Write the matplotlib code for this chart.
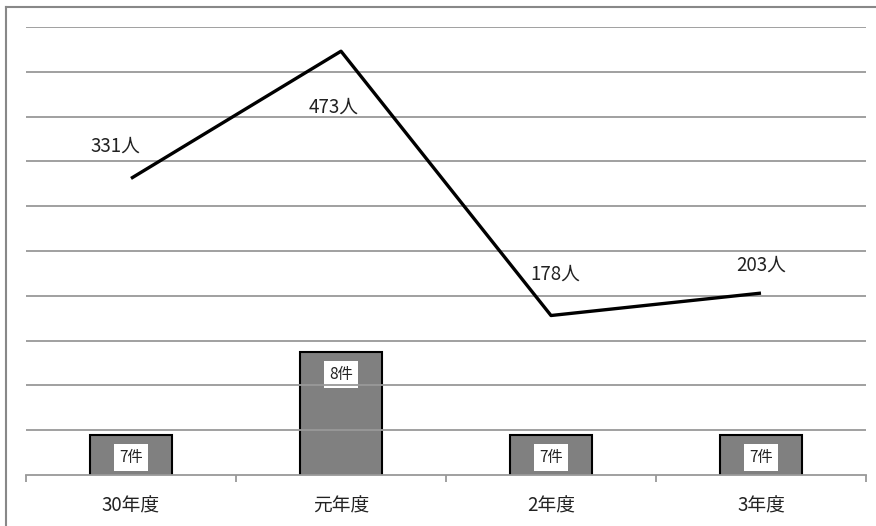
import matplotlib.pyplot as plt
from matplotlib.lines import Line2D

plt.rcParams['font.family'] = ['Noto Sans CJK JP', 'DejaVu Sans']

categories = ['30年度', '元年度', '2年度', '3年度']
cases = [7, 8, 7, 7]          # 件
people = [331, 473, 178, 203]  # 人

W, H = 876, 526
fig = plt.figure(figsize=(W / 100, H / 100), dpi=100)
ax = fig.add_axes([26 / W, (H - 475) / H, 840 / W, 448 / H])
ax2 = ax.twinx()

x = list(range(len(categories)))

# bars on the secondary scale, drawn below the line
ax2.bar(x, cases, width=0.395, color='#808080', edgecolor='black', linewidth=1.5, zorder=2)
ax2.set_ylim(6.52, 11.92)
ax2.set_yticks([])
for s in ax2.spines.values():
    s.set_visible(False)
for xi, v in zip(x, cases):
    ax2.annotate(f'{v}件', (xi, v), xytext=(0, -16), textcoords='offset points',
                 ha='center', va='center', fontsize=11, color='#222222',
                 bbox=dict(boxstyle='square,pad=0.35', fc='white', ec='none'))

ax.set_zorder(ax2.get_zorder() + 1)
ax.patch.set_visible(False)

ax.plot(x, people, color='black', lw=2.4, solid_capstyle='butt', zorder=3)
offsets = [(-11, 23), (-5, -40), (3, 30), (0, 20)]
for xi, v, off in zip(x, people, offsets):
    ax.annotate(f'{v}人', (xi, v), xytext=off, textcoords='offset points',
                ha='center', va='center', fontsize=13.5, color='#222222')

ax.set_ylim(0, 500)
ax.set_xlim(-0.5, len(categories) - 0.5)
ax.set_yticks(range(50, 501, 50))
ax.yaxis.grid(True, color='#999999', lw=1.3)
ax.tick_params(axis='y', length=0, labelleft=False)
ax.set_xticks(x)
ax.set_xticklabels(categories, fontsize=13.5, color='#222222')
ax.tick_params(axis='x', which='major', length=0, pad=15)
ax.set_xticks([i - 0.5 for i in range(len(categories) + 1)], minor=True)
ax.tick_params(axis='x', which='minor', length=5, color='#999999', width=1.3)
for k in ['top', 'right', 'left']:
    ax.spines[k].set_visible(False)
ax.spines['bottom'].set_color('#999999')
ax.spines['bottom'].set_linewidth(1.3)

# outer frame (top and left edges visible)
fig.add_artist(Line2D([6 / W, 1], [1 - 7 / H, 1 - 7 / H], color='#888888', lw=1.5))
fig.add_artist(Line2D([6 / W, 6 / W], [0, 1 - 7 / H], color='#888888', lw=1.5))

fig.savefig('out.png', dpi=100)
